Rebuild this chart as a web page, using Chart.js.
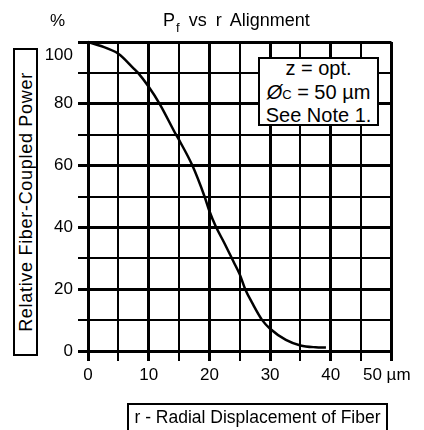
<!DOCTYPE html>
<html>
<head>
<meta charset="utf-8">
<script src="https://cdn.jsdelivr.net/npm/chart.js@4/dist/chart.umd.min.js"></script>
<style>
  html, body { margin: 0; padding: 0; background: #fff; }
  #wrap { position: relative; width: 424px; height: 430px; overflow: hidden; font-family: "Liberation Sans", Arial, sans-serif; color: #000; }
  #wrap canvas { position: absolute; left: 0; top: 0; }
  .ov { position: absolute; white-space: nowrap; line-height: 1; }
  .box { position: absolute; border: 2px solid #000; background: #fff; box-sizing: border-box; }
</style>
</head>
<body>
<div id="wrap">
  <canvas id="c" width="424" height="430"></canvas>
  <div class="ov" id="pct" style="left:50px; top:12px; font-size:17px;">%</div>
  <div class="ov" id="title" style="left:163px; top:11px; font-size:18px; word-spacing:4px;">P<span style="font-size:13px; position:relative; top:6px; margin-left:1px;">f</span> vs r Alignment</div>
  <div class="box" style="left:13px; top:48px; width:25px; height:308px;">
    <div class="ov" style="left:50%; top:50%; font-size:18px; letter-spacing:0.7px; transform: translate(-50%,-50%) rotate(-90deg);">Relative Fiber-Coupled Power</div>
  </div>
  <div class="box" style="left:127px; top:403px; width:261px; height:30px; background:transparent;">
    <div class="ov" style="left:0; width:257px; top:4px; font-size:17.5px; text-align:center;">r - Radial Displacement of Fiber</div>
  </div>
  <div class="box" style="left:258px; top:57px; width:121px; height:69px;">
    <div class="ov" style="left:0; width:117px; top:-1px; font-size:20px; text-align:center;">z = opt.</div>
    <div class="ov" style="left:0; width:117px; top:23px; font-size:20px; text-align:center;"><i>Ø</i><span style="font-size:13px;">C</span> = 50 µm</div>
    <div class="ov" style="left:0; width:117px; top:46px; font-size:20px; text-align:center;">See Note 1.</div>
  </div>
</div>
<script>
// ---- data ----
const displacementUm = [0, 2, 5, 7.5, 8.25, 10, 11.8, 14.5, 15, 17.2, 19.2, 20, 21, 22.5, 24, 25, 25.9, 27.1, 28.7, 30, 32.6, 35, 37.5, 39.2];
const relativePower  = [100, 98.8, 96.2, 91.5, 90, 85.5, 80, 70, 68.3, 60, 50, 45.3, 40.5, 34.8, 28.8, 24.8, 20, 15.4, 10, 7.2, 3.6, 1.8, 1.2, 1.1];
const xTickValues = [0, 10, 20, 30, 40, 50];
const xTickLabels = ['0', '10', '20', '30', '40', '50 µm  '];
const yTickValues = [0, 20, 40, 60, 80, 100];
const yTickLabels = ['0', '20', '40', '60', '80', '100'];

const points = displacementUm.map((x, i) => ({ x: x, y: relativePower[i] }));
const FONT = '"Liberation Sans", Arial, sans-serif';

new Chart(document.getElementById('c'), {
  type: 'line',
  data: {
    datasets: [{
      data: points,
      borderColor: '#000',
      borderWidth: 2.5,
      pointRadius: 0,
      fill: false,
      cubicInterpolationMode: 'monotone',
      clip: false
    }]
  },
  options: {
    responsive: false,
    animation: false,
    events: [],
    layout: { padding: { left: 0, top: 42, right: 31, bottom: 0 } },
    plugins: { legend: { display: false }, tooltip: { enabled: false }, title: { display: false } },
    scales: {
      x: {
        type: 'linear',
        position: 'bottom',
        min: 0, max: 50,
        afterFit: s => { s.height = 79; },
        border: { display: false },
        grid: {
          color: '#000',
          lineWidth: ctx => (ctx.tick && ctx.tick.value % 10 === 0) ? 3 : 2,
          tickLength: 10,
          drawTicks: true
        },
        ticks: {
          stepSize: 5,
          autoSkip: false,
          maxRotation: 0,
          color: '#000',
          padding: 4,
          font: { family: FONT, size: 17 },
          callback: v => { const i = xTickValues.indexOf(v); return i >= 0 ? xTickLabels[i] : ''; }
        }
      },
      y: {
        min: 0, max: 100,
        afterFit: s => { s.width = 88; },
        border: { display: false },
        grid: {
          color: '#000',
          lineWidth: ctx => (ctx.tick && ctx.tick.value % 20 === 0) ? 3 : 2,
          tickLength: 10,
          drawTicks: true
        },
        ticks: {
          stepSize: 10,
          autoSkip: false,
          color: '#000',
          padding: 5,
          font: ctx => ({ family: FONT, size: 17, lineHeight: (ctx.tick && ctx.tick.value === 100) ? 1.55 : 1.2 }),
          callback: v => {
            const i = yTickValues.indexOf(v);
            if (i < 0) return '';
            return v === 100 ? ['', yTickLabels[i]] : yTickLabels[i];
          }
        }
      }
    }
  }
});
</script>
</body>
</html>
